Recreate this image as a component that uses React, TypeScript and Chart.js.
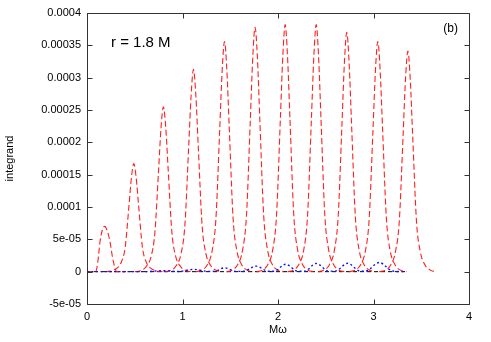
import React, { useEffect, useRef } from 'react';
import { Chart, registerables } from 'chart.js';

Chart.register(...registerables);

// ---- axis ticks ----
const xTickValues = [0, 1, 2, 3, 4];
const xTickLabels = ['0', '1', '2', '3', '4'];
const yTickValues = [-5e-5, 0, 5e-5, 1e-4, 1.5e-4, 2e-4, 2.5e-4, 3e-4, 3.5e-4, 4e-4];
const yTickLabels = ['-5e-05', '0', '5e-05', '0.0001', '0.00015', '0.0002', '0.00025', '0.0003', '0.00035', '0.0004'];

// ---- red dashed peaks ----
const peak1X = [0.0, 0.09, 0.115, 0.135, 0.16, 0.185, 0.21, 0.24, 0.265, 0.29, 0.31, 0.4];
const peak1Y = [0, 0, 17e-6, 45e-6, 64e-6, 70e-6, 64e-6, 47e-6, 24e-6, 7e-6, 0, 0];

const peak2X = [0.19, 0.25, 0.31, 0.36, 0.40, 0.44, 0.465, 0.49, 0.515, 0.54, 0.58, 0.62, 0.67, 0.73, 0.79];
const peak2Y = [0, 1.0e-6, 5.0e-6, 15e-6, 38e-6, 103e-6, 145e-6, 167e-6, 145e-6, 103e-6, 38e-6, 15e-6, 5.0e-6, 1.0e-6, 0];

const peak3X = [0.50, 0.56, 0.62, 0.67, 0.71, 0.75, 0.775, 0.80, 0.825, 0.85, 0.89, 0.93, 0.98, 1.04, 1.10];
const peak3Y = [0, 1.5e-6, 7.7e-6, 23e-6, 59e-6, 158e-6, 222e-6, 255e-6, 222e-6, 158e-6, 59e-6, 23e-6, 7.7e-6, 1.5e-6, 0];

const peak4X = [0.815, 0.875, 0.935, 0.985, 1.025, 1.065, 1.09, 1.115, 1.14, 1.165, 1.205, 1.245, 1.295, 1.355, 1.415];
const peak4Y = [0, 1.9e-6, 9.4e-6, 28e-6, 72e-6, 194e-6, 272e-6, 313e-6, 272e-6, 194e-6, 72e-6, 28e-6, 9.4e-6, 1.9e-6, 0];

const peak5X = [1.14, 1.20, 1.26, 1.31, 1.35, 1.39, 1.415, 1.44, 1.465, 1.49, 1.53, 1.57, 1.62, 1.68, 1.74];
const peak5Y = [0, 2.1e-6, 10.7e-6, 32e-6, 82e-6, 221e-6, 310e-6, 356e-6, 310e-6, 221e-6, 82e-6, 32e-6, 10.7e-6, 2.1e-6, 0];

const peak6X = [1.46, 1.52, 1.58, 1.63, 1.67, 1.71, 1.735, 1.76, 1.785, 1.81, 1.85, 1.89, 1.94, 2.00, 2.06];
const peak6Y = [0, 2.3e-6, 11.3e-6, 34e-6, 87e-6, 234e-6, 329e-6, 378e-6, 329e-6, 234e-6, 87e-6, 34e-6, 11.3e-6, 2.3e-6, 0];

const peak7X = [1.775, 1.835, 1.895, 1.945, 1.985, 2.025, 2.05, 2.075, 2.10, 2.125, 2.165, 2.205, 2.255, 2.315, 2.375];
const peak7Y = [0, 2.3e-6, 11.5e-6, 34e-6, 88e-6, 237e-6, 332e-6, 382e-6, 332e-6, 237e-6, 88e-6, 34e-6, 11.5e-6, 2.3e-6, 0];

const peak8X = [2.10, 2.16, 2.22, 2.27, 2.31, 2.35, 2.375, 2.40, 2.425, 2.45, 2.49, 2.53, 2.58, 2.64, 2.70];
const peak8Y = [0, 2.3e-6, 11.5e-6, 34e-6, 88e-6, 237e-6, 332e-6, 382e-6, 332e-6, 237e-6, 88e-6, 34e-6, 11.5e-6, 2.3e-6, 0];

const peak9X = [2.42, 2.48, 2.54, 2.59, 2.63, 2.67, 2.695, 2.72, 2.745, 2.77, 2.81, 2.85, 2.90, 2.96, 3.02];
const peak9Y = [0, 2.2e-6, 11.1e-6, 33e-6, 85e-6, 229e-6, 322e-6, 370e-6, 322e-6, 229e-6, 85e-6, 33e-6, 11.1e-6, 2.2e-6, 0];

const peak10X = [2.745, 2.805, 2.865, 2.915, 2.955, 2.995, 3.02, 3.045, 3.07, 3.095, 3.135, 3.175, 3.225, 3.285, 3.345];
const peak10Y = [0, 2.1e-6, 10.7e-6, 32e-6, 82e-6, 221e-6, 310e-6, 356e-6, 310e-6, 221e-6, 82e-6, 32e-6, 10.7e-6, 2.1e-6, 0];

const peak11X = [3.06, 3.12, 3.18, 3.23, 3.27, 3.31, 3.335, 3.36, 3.385, 3.41, 3.45, 3.49, 3.54, 3.60, 3.66];
const peak11Y = [0, 2.0e-6, 10.2e-6, 31e-6, 78e-6, 211e-6, 297e-6, 341e-6, 297e-6, 211e-6, 78e-6, 31e-6, 10.2e-6, 2.0e-6, 0];

// ---- blue dotted curve ----
const blueX = [0, 0.6, 0.8, 0.95, 1.12, 1.27, 1.33, 1.44, 1.56, 1.64, 1.77, 1.9, 1.96, 2.08, 2.21, 2.28, 2.40, 2.53, 2.6, 2.73, 2.86, 2.92, 3.06, 3.2, 3.33];
const blueY = [0, 0, 1.5e-6, 0.3e-6, 3.5e-6, 0.5e-6, 0.5e-6, 6e-6, 0.5e-6, 0.6e-6, 8.5e-6, 0.6e-6, 0.7e-6, 11.5e-6, 0.7e-6, 0.8e-6, 12.7e-6, 0.8e-6, 0.9e-6, 13e-6, 0.9e-6, 1.0e-6, 14.2e-6, 1.0e-6, 0];

// ---- black dashed curve ----
const blackX = [0, 3.33];
const blackY = [0, 0];

const redPeaks = [
  [peak1X, peak1Y], [peak2X, peak2Y], [peak3X, peak3Y], [peak4X, peak4Y],
  [peak5X, peak5Y], [peak6X, peak6Y], [peak7X, peak7Y], [peak8X, peak8Y],
  [peak9X, peak9Y], [peak10X, peak10Y], [peak11X, peak11Y],
];

const FONT = '"Liberation Sans", Arial, Helvetica, sans-serif';

const toPts = (xs: number[], ys: number[]) => xs.map((x, i) => ({ x, y: ys[i] }));

const framePlugin = {
  id: 'gnuFrame',
  afterDatasetsDraw(chart: any) {
    const { ctx, chartArea: a, scales } = chart;
    const L = Math.round(a.left) + 0.5;
    const R = Math.round(a.right) + 0.5;
    const T = Math.round(a.top) + 0.5;
    const B = Math.round(a.bottom) + 0.5;
    ctx.save();
    ctx.strokeStyle = '#333';
    ctx.lineWidth = 1;
    ctx.setLineDash([]);
    ctx.beginPath();
    ctx.rect(L, T, R - L, B - T);
    const tl = 5;
    yTickValues.forEach((v) => {
      const y = Math.round(scales.y.getPixelForValue(v)) + 0.5;
      ctx.moveTo(L, y); ctx.lineTo(L + tl, y);
      ctx.moveTo(R, y); ctx.lineTo(R - tl, y);
    });
    xTickValues.forEach((v) => {
      const x = Math.round(scales.x.getPixelForValue(v)) + 0.5;
      ctx.moveTo(x, B); ctx.lineTo(x, B - tl);
      ctx.moveTo(x, T); ctx.lineTo(x, T + tl);
    });
    ctx.stroke();
    ctx.fillStyle = '#000';
    ctx.font = `15px ${FONT}`;
    ctx.textBaseline = 'middle';
    ctx.textAlign = 'left';
    ctx.fillText('r = 1.8 M', 111, 43);
    ctx.font = `12px ${FONT}`;
    ctx.textAlign = 'right';
    ctx.fillText('(b)', 458, 29);
    ctx.restore();
  },
};

export default function App() {
  const ref = useRef<HTMLCanvasElement | null>(null);
  useEffect(() => {
    if (!ref.current) return;
    const datasets: any[] = [];
    datasets.push({
      data: toPts(blackX, blackY),
      borderColor: '#000',
      borderWidth: 1,
      borderDash: [4, 3],
      pointRadius: 0,
      order: 3,
    });
    redPeaks.forEach(([xs, ys]) => {
      datasets.push({
        data: toPts(xs as number[], ys as number[]),
        borderColor: 'rgba(255,20,20,0.95)',
        borderWidth: 1.1,
        borderDash: [6, 3],
        pointRadius: 0,
        cubicInterpolationMode: 'monotone',
        order: 2,
      });
    });
    datasets.push({
      data: toPts(blueX, blueY),
      borderColor: '#1010ff',
      borderWidth: 1.4,
      borderDash: [2, 2.5],
      pointRadius: 0,
      cubicInterpolationMode: 'monotone',
      order: 1,
    });

    const chart = new Chart(ref.current, {
      type: 'line',
      data: { datasets },
      plugins: [framePlugin],
      options: {
        animation: false,
        responsive: false,
        parsing: false as any,
        layout: { padding: { left: 0, right: 22, top: 13, bottom: 0 } },
        plugins: { legend: { display: false }, tooltip: { enabled: false } },
        scales: {
          x: {
            type: 'linear',
            min: 0,
            max: 4,
            afterBuildTicks: (s: any) => { s.ticks = xTickValues.map((v) => ({ value: v })); },
            afterFit: (s: any) => { s.height = 38; },
            grid: { display: false, drawTicks: false },
            border: { display: false },
            ticks: {
              padding: 6,
              color: '#000',
              font: { family: FONT, size: 11 },
              maxRotation: 0,
              callback: (_v: any, i: number) => xTickLabels[i],
            },
            title: {
              display: true,
              text: 'Mω',
              color: '#000',
              font: { family: FONT, size: 11 },
              padding: { top: 0, bottom: 5 },
            },
          },
          y: {
            type: 'linear',
            min: -5e-5,
            max: 4e-4,
            afterBuildTicks: (s: any) => { s.ticks = yTickValues.map((v) => ({ value: v })); },
            afterFit: (s: any) => { s.width = 87; },
            grid: { display: false, drawTicks: false },
            border: { display: false },
            ticks: {
              padding: 6,
              color: '#000',
              font: { family: FONT, size: 11 },
              callback: (_v: any, i: number) => yTickLabels[i],
            },
            title: {
              display: true,
              text: 'integrand',
              color: '#000',
              font: { family: FONT, size: 11 },
              padding: { top: 3, bottom: 0 },
            },
          },
        },
      },
    });
    return () => chart.destroy();
  }, []);
  return (
    <div style={{ position: 'absolute', left: 0, top: 0, width: 491, height: 342, background: '#fff' }}>
      <canvas ref={ref} width={491} height={342} style={{ display: 'block' }} />
    </div>
  );
}
